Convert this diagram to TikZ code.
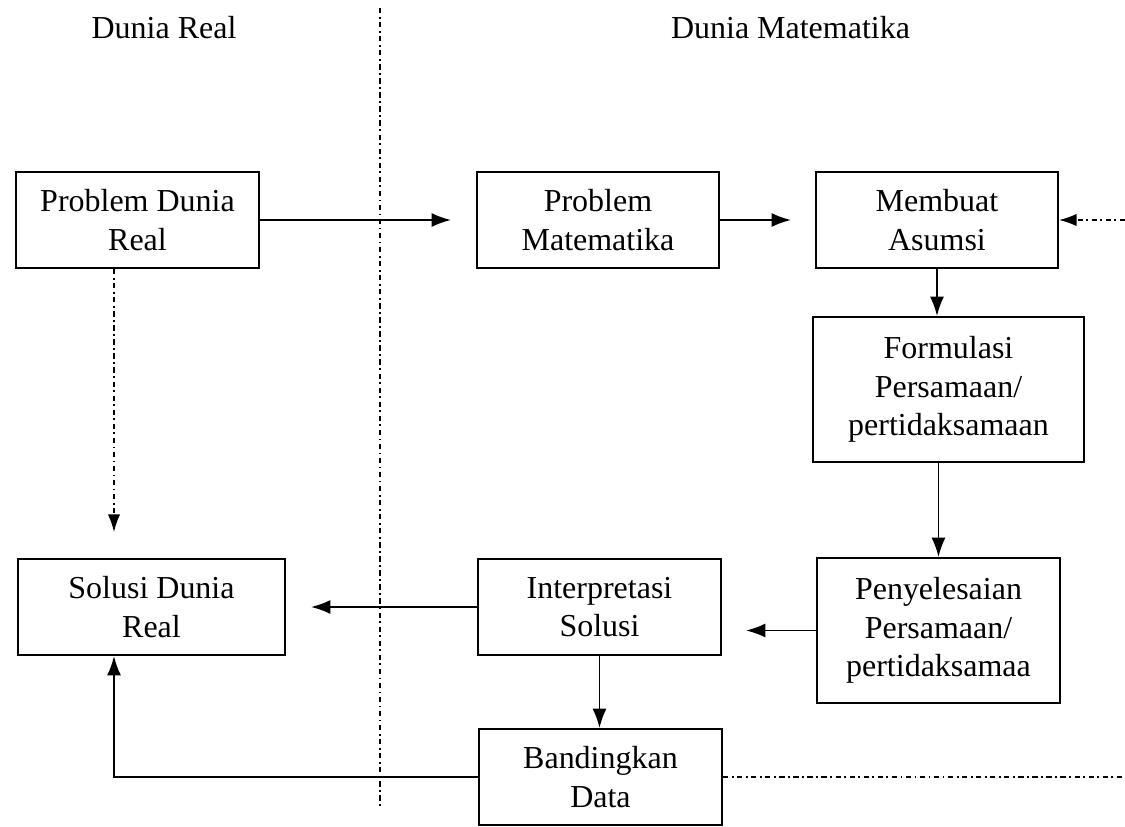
\documentclass[tikz,border=0pt]{standalone}
\usepackage{fontspec}
\setmainfont{Liberation Serif}
\usetikzlibrary{arrows.meta}

\begin{document}
\begin{tikzpicture}[scale=0.2,
  every node/.style={font=\fontsize{18.2}{22}\selectfont},
  box/.style={draw=black, line width=1.2pt, align=center, inner sep=0pt},
  link/.style={line width=1pt, -{Latex[length=11pt,width=8pt]}},
  dotlink/.style={line width=0.8pt, dash pattern=on 3pt off 2pt on 1pt off 2pt}]
  \useasboundingbox (0,0) rectangle (112.5,-82.6);
  % headers and divider
  \node (hreal) at (16.4,-3.8) [anchor=base] {Dunia Real};
  \node (hmat) at (79.05,-3.8) [anchor=base] {Dunia Matematika};
  \coordinate (divtop) at (38.0,-0.8);
  \coordinate (divbot) at (38.0,-80.8);
  \draw [dotlink] (divtop) -- (divbot);
  % boxes
  \node (pdr) at (13.75,-22.0) [box, minimum width=4.86cm, minimum height=1.92cm] {Problem Dunia\\Real};
  \node (pm) at (59.8,-22.0) [box, minimum width=4.84cm, minimum height=1.92cm] {Problem\\Matematika};
  \node (ma) at (93.7,-22.0) [box, minimum width=4.84cm, minimum height=1.92cm] {Membuat\\Asumsi};
  \node (fp) at (94.85,-38.95) [box, minimum width=5.42cm, minimum height=2.9cm] {Formulasi\\Persamaan/\\pertidaksamaan};
  \node (pp) at (93.85,-63.05) [box, minimum width=4.86cm, minimum height=2.9cm] {Penyelesaian\\Persamaan/\\pertidaksamaa};
  \node (is) at (59.95,-60.7) [box, minimum width=4.86cm, minimum height=1.92cm] {Interpretasi\\Solusi};
  \node (sdr) at (15.15,-60.7) [box, minimum width=5.34cm, minimum height=1.92cm] {Solusi Dunia\\Real};
  \node (bd) at (60.05,-77.7) [box, minimum width=4.86cm, minimum height=1.92cm] {Bandingkan\\Data};
  \coordinate (leftx) at (11.4,-77.7);
  \coordinate (edgeA) at (112.5,-22.0);
  \coordinate (edgeB) at (112.5,-77.6);
  % connectors
  \draw [link, shorten >=0.5cm] (pdr.east) -- (pm.west);
  \draw [link, shorten >=0.48cm] (pm.east) -- (ma.west);
  \draw [link] (ma.south) -- (ma.south |- fp.north);
  \draw [link] (pp.north |- fp.south) -- (pp.north);
  \draw [link, shorten >=0.48cm] (pp.west) -- (pp.west -| is.east);
  \draw [link, shorten >=0.5cm] (is.west) -- (sdr.east);
  \draw [link] (is.south) -- (is.south |- bd.north);
  \draw [link] (bd.west) -- (leftx) -- (leftx |- sdr.south);
  \draw [dotlink, -{Latex[length=10pt,width=7pt]}, shorten >=0.52cm] (leftx |- pdr.south) -- (leftx |- sdr.north);
  \draw [dotlink, -{Latex[length=10pt,width=7pt]}] (edgeA) -- (ma.east);
  \draw [dotlink] (bd.east) -- (bd.east -| edgeB);
\end{tikzpicture}
\end{document}
